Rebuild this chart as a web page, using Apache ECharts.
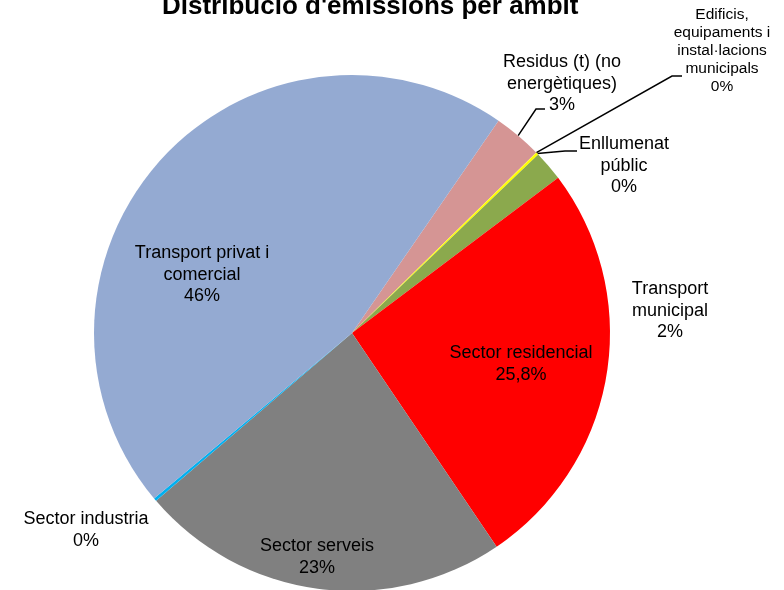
<!DOCTYPE html>
<html><head><meta charset="utf-8">
<script src="https://cdn.jsdelivr.net/npm/echarts@6/dist/echarts.min.js"></script>
<style>html,body{margin:0;padding:0;background:#fff}#c{width:784px;height:590px}</style>
</head><body><div id="c"></div>
<script>
const categories = ["Residus (t) (no energètiques)", "Edificis, equipaments i instal·lacions municipals", "Enllumenat públic", "Transport municipal", "Sector residencial", "Sector serveis", "Sector industria", "Transport privat i comercial"];
const values = [3.05, 0.02, 0.15, 1.9, 25.8, 23.2, 0.19, 45.7];
const labelTexts = ["Residus (t) (no\nenergètiques)\n3%", "Edificis,\nequipaments i\ninstal·lacions\nmunicipals\n0%", "Enllumenat\npúblic\n0%", "Transport\nmunicipal\n2%", "Sector residencial\n25,8%", "Sector serveis\n23%", "Sector industria\n0%", "Transport privat i\ncomercial\n46%"];

const colors = ["#D59594", "#FFFF00", "#FFFF00", "#8BA94D", "#FF0000", "#808080", "#00B0F0", "#94AAD2"];
const labelPos = [[562, 84], [722, 51], [624, 166], [670, 311], [521, 364], [317, 557], [86, 530], [202, 275]];
// leader line elbow / end points for labels that have a leader line
const leader = [[[536, 109], [545, 109]], [[672, 76], [682, 76]], [[565, 151], [577, 151]], null, null, null, null, null];
const smallFont = [false, true, false, false, false, false, false, false];

const chart = echarts.init(document.getElementById('c'), null, {renderer: 'canvas'});
chart.setOption({
  animation: false,
  title: {
    text: "Distribució d'emissions per àmbit",
    left: 157, top: -11,
    textStyle: {fontFamily: 'Liberation Sans, Arial', fontSize: 26, fontWeight: 'bold', color: '#000'}
  },
  series: [{
    type: 'pie',
    center: [352, 333],
    radius: 258,
    startAngle: 55.4,
    clockwise: true,
    avoidLabelOverlap: false,
    minAngle: 0,
    itemStyle: {borderWidth: 0},
    emphasis: {disabled: true},
    label: {show: true, position: 'outside', color: '#000', fontFamily: 'Liberation Sans, Arial', fontSize: 18, lineHeight: 21.5, align: 'center'},
    labelLine: {show: true, length: 10, length2: 10, lineStyle: {color: '#000', width: 1.5}},
    labelLayout: function (p) {
      const i = p.dataIndex;
      const pos = labelPos[i];
      const out = {x: pos[0], y: pos[1], align: 'center', verticalAlign: 'middle'};
      if (leader[i] && p.labelLinePoints) {
        out.labelLinePoints = [p.labelLinePoints[0], leader[i][0], leader[i][1]];
      }
      return out;
    },
    data: categories.map((name, i) => ({
      name: name,
      value: values[i],
      itemStyle: {color: colors[i]},
      label: {
        formatter: labelTexts[i],
        fontSize: smallFont[i] ? 15.5 : 18,
        lineHeight: smallFont[i] ? 18 : 21.5
      },
      labelLine: {show: !!leader[i]}
    }))
  }]
});
</script></body></html>
